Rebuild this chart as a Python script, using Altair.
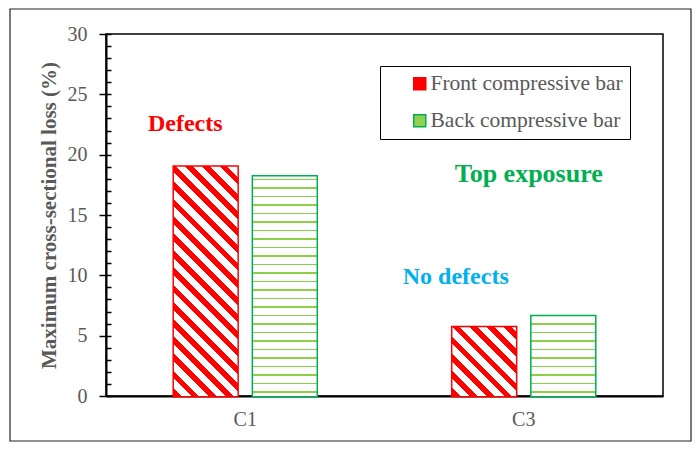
import altair as alt
import pandas as pd

# ---------------- data ----------------
CATEGORIES = ["C1", "C3"]
SERIES = ["Front compressive bar", "Back compressive bar"]
FRONT = [19.0, 5.7]
BACK = [18.2, 6.6]

ANNOT_TEXT = ["Defects", "Top exposure", "No defects"]
ANNOT_CAT = ["C1", "C3", "C3"]
ANNOT_Y = [22.0, 17.7, 9.3]
ANNOT_COLOR = ["#FF0000", "#00B050", "#00B0F0"]
ANNOT_DX = [-60, 5, -68]
ANNOT_SIZE = [24, 26, 24]

Y_MAX = 30
Y_TITLE = "Maximum cross-sectional loss (%)"

# ---------------- layout / style ----------------
FONT = "Liberation Serif"
GREY = "#595959"
PLOT_W, PLOT_H = 557, 362
PAD = {"left": 98, "top": 26, "right": 29, "bottom": 46}
X_PAD_IN, X_PAD_OUT = 0.488, 0.244
OFF_PAD_IN = 0.198

PX_PER_UNIT = PLOT_H / Y_MAX
X_STEP = PLOT_W / (len(CATEGORIES) - X_PAD_IN + 2 * X_PAD_OUT)
GROUP_W = X_STEP * (1 - X_PAD_IN)
BAR_W = GROUP_W / (len(SERIES) - OFF_PAD_IN) * (1 - OFF_PAD_IN)

rows = []
for i, c in enumerate(CATEGORIES):
    rows.append({"cat": c, "series": SERIES[0], "value": FRONT[i]})
    rows.append({"cat": c, "series": SERIES[1], "value": BACK[i]})
df = pd.DataFrame(rows)

ann = pd.DataFrame({"text": ANNOT_TEXT, "cat": ANNOT_CAT, "y": ANNOT_Y})

x_enc = alt.X("cat:N", scale=alt.Scale(domain=CATEGORIES, paddingInner=X_PAD_IN, paddingOuter=X_PAD_OUT),
              axis=alt.Axis(title=None, ticks=False, labelAngle=0, labelFontSize=20, labelColor=GREY,
                            labelFont=FONT, labelPadding=13, domainColor="black", domainWidth=2))
xo_enc = alt.XOffset("series:N", scale=alt.Scale(domain=SERIES, paddingInner=OFF_PAD_IN, paddingOuter=0))
y_scale = alt.Scale(domain=[0, Y_MAX], nice=False)
y_enc = alt.Y("value:Q", scale=y_scale,
              axis=alt.Axis(title=Y_TITLE, values=list(range(0, Y_MAX + 1, 5)), tickSize=7, tickWidth=1.5,
                            tickColor="black", domainColor="black", domainWidth=2, grid=False,
                            labelFontSize=20, labelColor=GREY, labelFont=FONT, labelPadding=12,
                            titleFont=FONT, titleFontSize=21, titleFontWeight="bold", titleColor=GREY,
                            titlePadding=8))

legend = alt.Legend(title=None, orient="none", legendX=274, legendY=32,
                    labelExpr="datum.label + '    '")

base = alt.Chart(df).mark_bar(strokeWidth=3).encode(
    x=x_enc, xOffset=xo_enc, y=y_enc,
    fill=alt.Fill("series:N", scale=alt.Scale(domain=SERIES, range=["#FF0000", "#92D050"]), legend=legend),
    stroke=alt.Stroke("series:N", scale=alt.Scale(domain=SERIES, range=["#FF0000", "#00B050"]), legend=legend),
)


def diag_gradient(h):
    w = BAR_W
    n = (w + h) / 17.2
    per = 1.0 / n
    stops = []
    k = 0
    while k * per < 1:
        t0 = k * per
        t1 = min(t0 + 0.45 * per, 1)
        t2 = min(t0 + per, 1)
        stops += [{"offset": t0, "color": "#FF0000"}, {"offset": t1, "color": "#FF0000"},
                  {"offset": t1, "color": "#FFFFFF"}, {"offset": t2, "color": "#FFFFFF"}]
        k += 1
    c = (w + h) / (w * w + h * h)
    return {"gradient": "linear", "x1": 0, "y1": 1, "x2": c * w, "y2": 1 - c * h, "stops": stops}


def hline_gradient(h):
    stops = [{"offset": 0, "color": "#FFFFFF"}]
    d = 4.0
    while d + 0.9 < h - 1.5:
        a, b = (d - 0.9) / h, (d + 0.9) / h
        stops += [{"offset": a, "color": "#FFFFFF"}, {"offset": a, "color": "#8CD048"},
                  {"offset": b, "color": "#8CD048"}, {"offset": b, "color": "#FFFFFF"}]
        d += 8.5
    stops.append({"offset": 1, "color": "#FFFFFF"})
    return {"gradient": "linear", "x1": 0, "y1": 1, "x2": 0, "y2": 0, "stops": stops}


overlays = []
for i, c in enumerate(CATEGORIES):
    for s, vals, fn in [(SERIES[0], FRONT, diag_gradient), (SERIES[1], BACK, hline_gradient)]:
        h = vals[i] * PX_PER_UNIT
        overlays.append(
            alt.Chart(df).transform_filter((alt.datum.cat == c) & (alt.datum.series == s))
            .mark_bar(fill=fn(h)).encode(x=x_enc, xOffset=xo_enc, y=y_enc)
        )

texts = []
for i in range(len(ANNOT_TEXT)):
    texts.append(
        alt.Chart(ann).transform_filter(alt.datum.text == ANNOT_TEXT[i])
        .mark_text(font=FONT, fontWeight="bold", fontSize=ANNOT_SIZE[i], color=ANNOT_COLOR[i],
                   dx=ANNOT_DX[i], baseline="alphabetic", align="center")
        .encode(x=alt.X("cat:N"), y=alt.Y("y:Q", scale=y_scale), text="text:N")
    )

frame = alt.Chart(pd.DataFrame({"a": [0]})).mark_rect(fillOpacity=0, stroke="#222", strokeWidth=1.2).encode(
    x=alt.value(-96), x2=alt.value(585), y=alt.value(-25), y2=alt.value(407)
)

content = alt.layer(base, *overlays, *texts, frame)

inner_ticks = alt.Chart(df).mark_bar(opacity=0).encode(
    x=alt.X("cat:N"), xOffset=alt.XOffset("series:N"),
    y=alt.Y("value:Q", scale=alt.Scale(domain=[0, Y_MAX], nice=False),
            axis=alt.Axis(orient="left", offset=-5, values=list(range(0, Y_MAX + 1)), tickSize=5,
                          tickWidth=1.5, tickColor="black", labels=False, domain=False, grid=False,
                          title=None)),
)

chart = alt.layer(content, inner_ticks).resolve_scale(y="independent").properties(
    width=PLOT_W, height=PLOT_H, padding=PAD, autosize=alt.AutoSizeParams(type="none"),
    background="white"
).configure_view(stroke="black", strokeWidth=1.5).configure_legend(
    strokeColor="black", padding=7, symbolOffset=22, symbolSize=144, symbolType="square",
    symbolStrokeWidth=1.5, labelFont=FONT, labelFontSize=21.5, labelColor=GREY,
    labelOffset=0, rowPadding=14, labelLimit=400
)

chart.save("out.html", embed_options={"renderer": "svg", "actions": False})
